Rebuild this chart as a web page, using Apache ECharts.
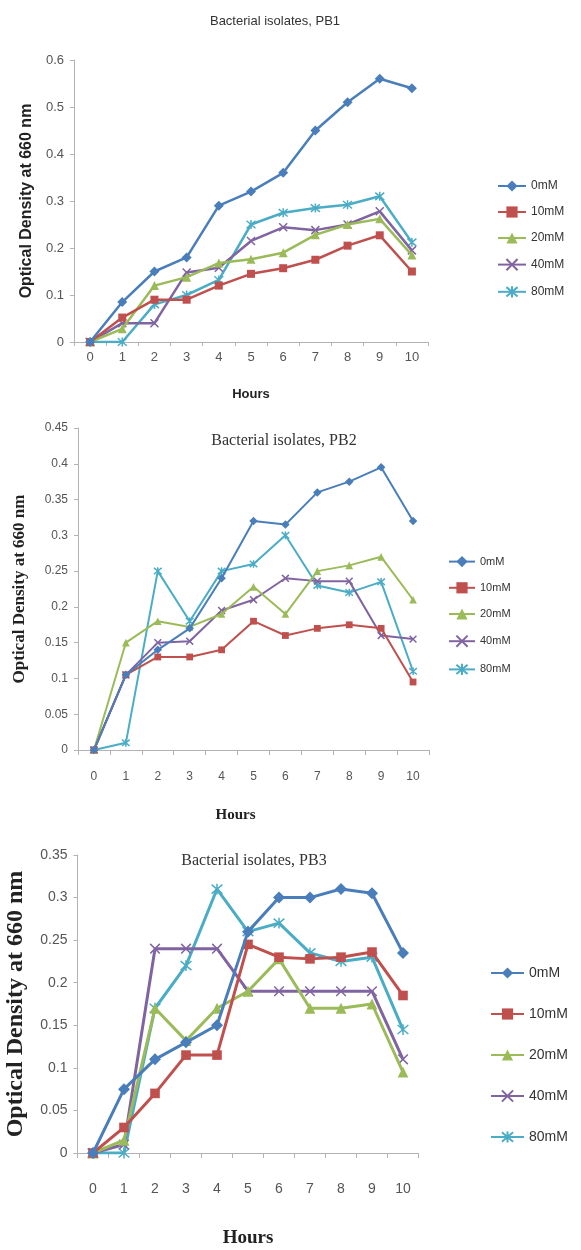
<!DOCTYPE html>
<html>
<head>
<meta charset="utf-8">
<script src="https://cdn.jsdelivr.net/npm/echarts@6/dist/echarts.min.js"></script>
<style>
html,body{margin:0;padding:0;background:#fff;}
#c{width:581px;height:1250px;}
</style>
</head>
<body>
<div id="c"></div>
<script>
// ---- data ----
const hours = ['0','1','2','3','4','5','6','7','8','9','10'];
const seriesNames = ['0mM','10mM','20mM','40mM','80mM'];
const titles = ['Bacterial isolates, PB1','Bacterial isolates, PB2','Bacterial isolates, PB3'];
const yAxisTitle = 'Optical Density at 660 nm';
const xAxisTitle = 'Hours';

const pb1_0mM  = [0, 0.085, 0.15, 0.18, 0.29, 0.32, 0.36, 0.45, 0.51, 0.56, 0.54];
const pb1_10mM = [0, 0.052, 0.09, 0.09, 0.12, 0.145, 0.157, 0.175, 0.205, 0.227, 0.15];
const pb1_20mM = [0, 0.028, 0.12, 0.138, 0.168, 0.176, 0.19, 0.228, 0.25, 0.262, 0.185];
const pb1_40mM = [0, 0.04, 0.04, 0.148, 0.158, 0.215, 0.244, 0.238, 0.25, 0.278, 0.195];
const pb1_80mM = [0, 0, 0.08, 0.1, 0.132, 0.25, 0.275, 0.285, 0.292, 0.31, 0.212];

const pb2_0mM  = [0, 0.105, 0.14, 0.17, 0.24, 0.32, 0.315, 0.36, 0.375, 0.395, 0.32];
const pb2_10mM = [0, 0.105, 0.13, 0.13, 0.14, 0.18, 0.16, 0.17, 0.175, 0.17, 0.095];
const pb2_20mM = [0, 0.15, 0.18, 0.172, 0.19, 0.228, 0.19, 0.25, 0.258, 0.27, 0.21];
const pb2_40mM = [0, 0.105, 0.15, 0.152, 0.195, 0.21, 0.24, 0.236, 0.236, 0.16, 0.155];
const pb2_80mM = [0, 0.01, 0.25, 0.18, 0.25, 0.26, 0.30, 0.23, 0.22, 0.235, 0.11];

const pb3_0mM  = [0, 0.075, 0.11, 0.13, 0.15, 0.26, 0.30, 0.30, 0.31, 0.305, 0.235];
const pb3_10mM = [0, 0.03, 0.07, 0.115, 0.115, 0.245, 0.23, 0.228, 0.23, 0.236, 0.185];
const pb3_20mM = [0, 0.015, 0.17, 0.132, 0.17, 0.19, 0.228, 0.17, 0.17, 0.175, 0.095];
const pb3_40mM = [0, 0.01, 0.24, 0.24, 0.24, 0.19, 0.19, 0.19, 0.19, 0.19, 0.11];
const pb3_80mM = [0, 0, 0.17, 0.22, 0.31, 0.26, 0.27, 0.235, 0.225, 0.23, 0.145];

const yMax = [0.6, 0.45, 0.35];
const yInterval = [0.1, 0.05, 0.05];

// ---- styling ----
const colors = ['#4a7ebb', '#c0504d', '#9bbb59', '#8064a2', '#4bacc6'];
const symbols = ['diamond', 'rect', 'triangle',
  'path://M0,0L10,10M0,10L10,0',
  'path://M0,0L10,10M0,10L10,0M5,-1L5,11'];
const symSize = [10, 8, 9, 8, 9];
const sans = "'Liberation Sans Narrow','Arial Narrow','Liberation Sans',Arial,sans-serif";
const serif = "'Liberation Serif','Times New Roman',serif";

const allData = [
  [pb1_0mM, pb1_10mM, pb1_20mM, pb1_40mM, pb1_80mM],
  [pb2_0mM, pb2_10mM, pb2_20mM, pb2_40mM, pb2_80mM],
  [pb3_0mM, pb3_10mM, pb3_20mM, pb3_40mM, pb3_80mM]
];

const grids = [
  {left: 74, top: 60, width: 354, height: 282, outerBoundsMode: 'none', containLabel: false},
  {left: 78, top: 428, width: 351, height: 322, outerBoundsMode: 'none', containLabel: false},
  {left: 77.5, top: 855, width: 341, height: 298, outerBoundsMode: 'none', containLabel: false}
];
const lineW = [2.5, 2, 3];
const symScale = [1, 0.85, 1.2];

const axisLineStyle = {lineStyle: {color: '#b3b3b3', width: 1}};

const xAxes = [
  {gridIndex: 0, type: 'category', data: hours, boundaryGap: true,
   axisLine: axisLineStyle, axisTick: {show: true, length: 4, lineStyle: {color: '#b3b3b3'}},
   axisLabel: {color: '#555', fontFamily: sans, fontSize: 13, margin: 9},
   name: xAxisTitle, nameLocation: 'middle', nameGap: 46,
   nameTextStyle: {fontFamily: sans, fontWeight: 'bold', fontSize: 13, color: '#222'}},
  {gridIndex: 1, type: 'category', data: hours, boundaryGap: true,
   axisLine: axisLineStyle, axisTick: {show: true, length: 5, lineStyle: {color: '#b3b3b3'}},
   axisLabel: {color: '#555', fontFamily: sans, fontSize: 12, margin: 21},
   name: xAxisTitle, nameLocation: 'middle', nameGap: 58,
   nameTextStyle: {fontFamily: serif, fontWeight: 'bold', fontSize: 15, color: '#222', padding: [0, 36, 0, 0]}},
  {gridIndex: 2, type: 'category', data: hours, boundaryGap: true,
   axisLine: axisLineStyle, axisTick: {show: true, length: 5, lineStyle: {color: '#b3b3b3'}},
   axisLabel: {color: '#555', fontFamily: sans, fontSize: 14, margin: 29},
   name: xAxisTitle, nameLocation: 'middle', nameGap: 76,
   nameTextStyle: {fontFamily: serif, fontWeight: 'bold', fontSize: 19, color: '#222'}}
];

const yAxes = [0, 1, 2].map(function (i) {
  const nameStyles = [
    {fontFamily: "'Liberation Sans',Arial,sans-serif", fontWeight: 'bold', fontSize: 16, color: '#222'},
    {fontFamily: serif, fontWeight: 'bold', fontSize: 17, color: '#222'},
    {fontFamily: serif, fontWeight: 'bold', fontSize: 24, color: '#222'}
  ];
  const gaps = [36, 50, 50];
  const fs = [13, 12, 14];
  return {
    gridIndex: i, type: 'value', min: 0, max: yMax[i], interval: yInterval[i],
    splitLine: {show: false},
    axisLine: {show: true, lineStyle: {color: '#b3b3b3', width: 1}},
    axisTick: {show: true, length: 4, lineStyle: {color: '#b3b3b3'}},
    axisLabel: {color: '#555', fontFamily: sans, fontSize: fs[i], margin: 10},
    name: yAxisTitle, nameLocation: 'middle', nameRotate: 90, nameGap: gaps[i],
    nameTextStyle: nameStyles[i]
  };
});

const series = [];
allData.forEach(function (set, g) {
  set.forEach(function (vals, k) {
    const isStroke = k >= 3;
    series.push({
      name: seriesNames[k], type: 'line', xAxisIndex: g, yAxisIndex: g,
      data: vals, symbol: symbols[k], symbolSize: symSize[k] * symScale[g],
      showAllSymbol: true,
      lineStyle: {color: colors[k], width: lineW[g]},
      itemStyle: isStroke ? {color: colors[k], borderColor: colors[k], borderWidth: 1.5}
                          : {color: colors[k]},
      emphasis: {disabled: true}, animation: false, z: 10 - k
    });
  });
});

const legendTexts = [
  {fontFamily: sans, fontSize: 12, color: '#333'},
  {fontFamily: sans, fontSize: 11, color: '#333'},
  {fontFamily: sans, fontSize: 14, color: '#333'}
];
const legends = [
  {left: 497, top: 180, itemGap: 14, itemWidth: 28},
  {left: 448, top: 556, itemGap: 15, itemWidth: 26},
  {left: 490, top: 966, itemGap: 27, itemWidth: 33}
].map(function (p, i) {
  return Object.assign({orient: 'vertical', data: seriesNames, itemHeight: 14, padding: 0,
    textStyle: legendTexts[i], selectedMode: false}, p);
});

const titleOpts = [
  {text: titles[0], left: 270, top: 10, textAlign: 'center',
   textStyle: {fontFamily: sans, fontSize: 13, fontWeight: 'normal', color: '#333'}},
  {text: titles[1], left: 279, top: 428, textAlign: 'center',
   textStyle: {fontFamily: serif, fontSize: 16, fontWeight: 'normal', color: '#333'}},
  {text: titles[2], left: 249, top: 848, textAlign: 'center',
   textStyle: {fontFamily: serif, fontSize: 16, fontWeight: 'normal', color: '#333'}}
];

const chart = echarts.init(document.getElementById('c'), null, {renderer: 'canvas'});
chart.setOption({
  backgroundColor: '#fff',
  animation: false,
  title: titleOpts,
  legend: legends,
  grid: grids,
  xAxis: xAxes,
  yAxis: yAxes,
  series: series
});
</script>
</body>
</html>
